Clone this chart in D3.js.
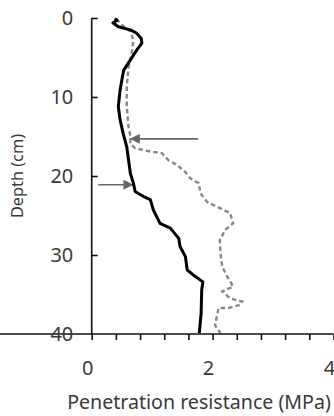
<!DOCTYPE html>
<html><head><meta charset="utf-8">
<script src="https://cdn.jsdelivr.net/npm/d3@7"></script>
<style>body{margin:0;background:#fff}svg{display:block}</style>
</head><body>
<svg id="c" width="334" height="416"></svg>
<script>
// Solid black profile: [depth cm, resistance MPa]
const solidDepth = [0.1,0.3,0.6,1.1,1.5,1.9,2.6,3.2,4.0,5.3,6.6,7.8,9.1,11.2,12.9,14.6,16.3,18.0,19.7,20.9,22.0,22.6,23.0,24.3,26.0,26.6,27.9,28.9,30.2,31.9,32.7,33.4,34.4,37.4,39.9];
const solidValue = [0.38,0.42,0.35,0.44,0.64,0.74,0.82,0.83,0.75,0.64,0.53,0.50,0.47,0.44,0.47,0.52,0.58,0.61,0.64,0.69,0.72,0.86,0.97,1.02,1.13,1.30,1.44,1.46,1.55,1.58,1.71,1.84,1.82,1.81,1.78];
// Dashed grey profile
const dashDepth = [0.1,0.7,1.7,2.8,4.5,6.2,8.7,11.2,13.8,15.0,15.9,16.5,16.9,17.1,18.0,18.6,19.5,20.3,20.9,22.2,23.3,24.1,24.7,26.0,26.8,28.1,29.8,31.5,32.7,34.0,34.6,35.5,35.9,36.3,36.7,36.7,37.8,38.9,39.9];
const dashValue = [0.41,0.47,0.64,0.69,0.66,0.61,0.58,0.58,0.61,0.64,0.64,0.72,0.97,1.16,1.27,1.41,1.55,1.63,1.77,1.80,1.91,2.13,2.29,2.34,2.21,2.12,2.13,2.16,2.24,2.34,2.16,2.29,2.49,2.46,2.27,2.10,2.07,2.04,2.13];
// Arrows: [start value, end value, depth]
const arrowFrom = [1.76, 0.11];
const arrowTo = [0.63, 0.69];
const arrowDepth = [15.3, 21.1];
const xTickValues = [0,0.4,0.8,1.2,1.6,2,2.4,2.8,3.2,3.6,4];
const xTickLabels = [0,2,4];
const yTickValues = [0,10,20,30,40];

const svg = d3.select("#c");
const x = d3.scaleLinear().domain([0,4]).range([91.7,333.5]);
const y = d3.scaleLinear().domain([0,40]).range([18,334]);
const font = "'Noto Sans', sans-serif";
const txt = "#3a3a3a";

// arrows
const defs = svg.append("defs");
defs.append("marker").attr("id","ah").attr("viewBox","0 0 10 10").attr("refX",10).attr("refY",5)
  .attr("markerWidth",12).attr("markerHeight",10).attr("markerUnits","userSpaceOnUse").attr("orient","auto")
  .append("path").attr("d","M0,0L10,5L0,10Z").attr("fill","#666");
arrowFrom.forEach((f,i)=>{
  svg.append("line").attr("x1",x(f)).attr("x2",x(arrowTo[i])).attr("y1",y(arrowDepth[i])).attr("y2",y(arrowDepth[i]))
    .attr("stroke","#666").attr("stroke-width",1.6).attr("marker-end","url(#ah)");
});

const line = d3.line().x(d=>x(d[1])).y(d=>y(d[0]));
svg.append("path").datum(dashDepth.map((d,i)=>[d,dashValue[i]])).attr("d",line)
  .attr("fill","none").attr("stroke","#888").attr("stroke-width",2.4).attr("stroke-dasharray","4.5,3");
svg.append("path").datum(solidDepth.map((d,i)=>[d,solidValue[i]])).attr("d",line)
  .attr("fill","none").attr("stroke","#000").attr("stroke-width",3).attr("stroke-linejoin","round");

// axes
const xa = svg.append("g").attr("transform",`translate(0,${y(40)})`)
  .call(d3.axisBottom(x).tickValues(xTickValues).tickSize(6).tickFormat(""));
const ya = svg.append("g").attr("transform",`translate(${x(0)},0)`)
  .call(d3.axisLeft(y).tickValues(yTickValues).tickSize(-6).tickPadding(18.4));
[xa,ya].forEach(g=>{g.selectAll("path,line").attr("stroke","#111").attr("stroke-width",1.6);
  g.select(".domain").attr("d", g===xa ? `M0,0H${x(4)}` : `M0,${y(0)}V${y(40)}`);});
ya.selectAll(".tick line").filter(d=>d===40).remove();
ya.selectAll("text").attr("font-family",font).attr("font-size",20).attr("fill",txt);

svg.append("g").selectAll("text").data(xTickLabels).join("text")
  .attr("x",d=>x(d)-4).attr("y",375).attr("text-anchor","middle")
  .attr("font-family",font).attr("font-size",20).attr("fill",txt).text(d=>d);

svg.append("text").attr("x",199).attr("y",409).attr("text-anchor","middle")
  .attr("font-family",font).attr("font-size",19.6).attr("fill",txt).text("Penetration resistance (MPa)");
svg.append("text").attr("transform","translate(23,176) rotate(-90)").attr("text-anchor","middle")
  .attr("font-family",font).attr("font-size",16.3).attr("fill",txt).text("Depth (cm)");
</script>
</body></html>
